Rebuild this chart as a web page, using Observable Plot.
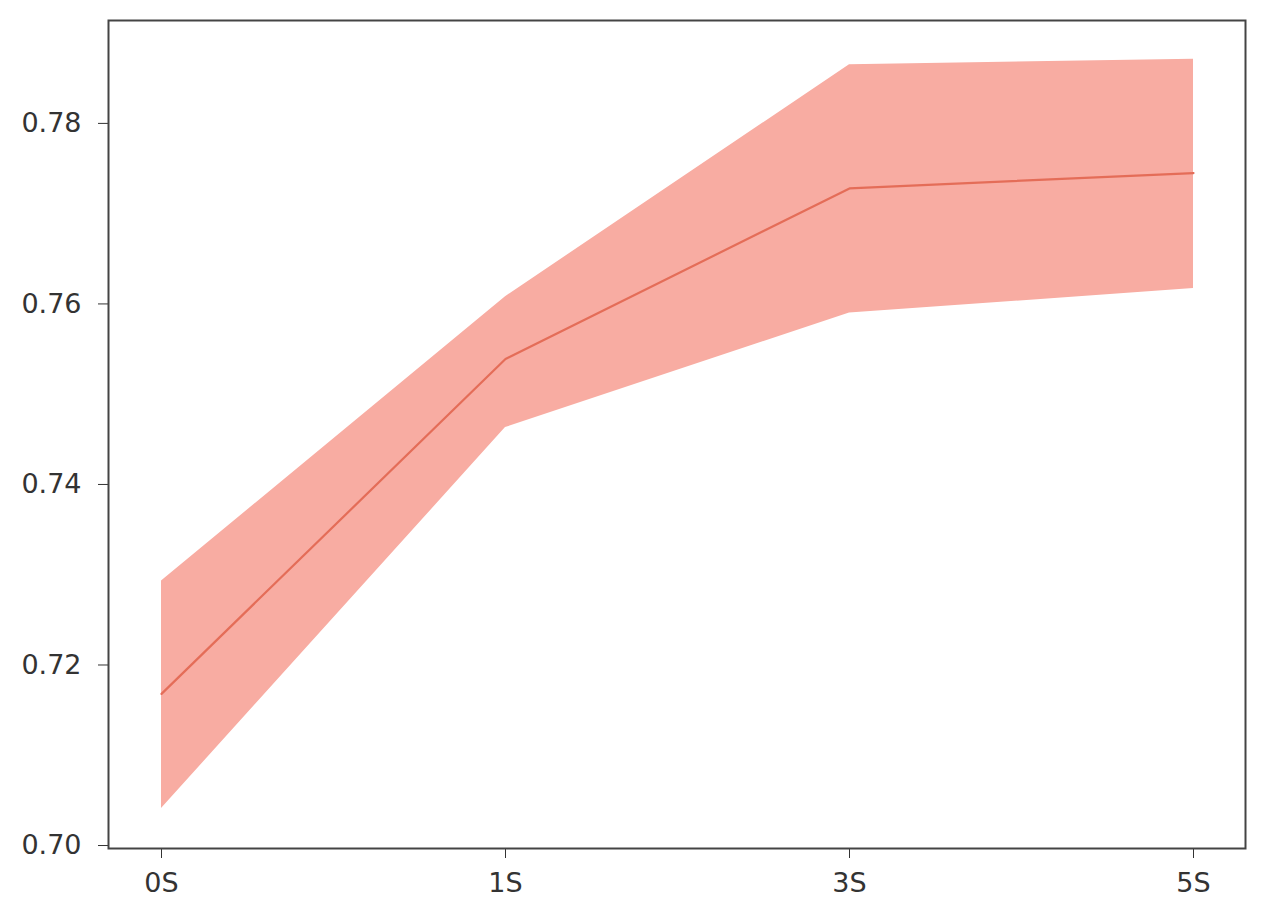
<!DOCTYPE html>
<html>
<head>
<meta charset="utf-8">
<script src="https://cdn.jsdelivr.net/npm/d3@7"></script>
<script src="https://cdn.jsdelivr.net/npm/@observablehq/plot@0.6"></script>
<style>
  html, body { margin: 0; padding: 0; background: #fff; }
  #chart { width: 1280px; height: 907px; }
</style>
</head>
<body>
<div id="chart"></div>
<script>
const categories = ["0S", "1S", "3S", "5S"];
const meanValues = [0.7168, 0.7539, 0.7728, 0.7745];
const upperValues = [0.7293, 0.7608, 0.7865, 0.7871];
const lowerValues = [0.7041, 0.7463, 0.7590, 0.7617];
const yTicks = [0.70, 0.72, 0.74, 0.76, 0.78];

const data = categories.map((c, i) => ({
  cat: c, mean: meanValues[i], hi: upperValues[i], lo: lowerValues[i]
}));

const plot = Plot.plot({
  width: 1280,
  height: 907,
  marginLeft: 108,
  marginRight: 35,
  marginTop: 20,
  marginBottom: 59,
  style: { fontFamily: "DejaVu Sans", fontSize: "27px", color: "#333", background: "#fff" },
  x: { type: "point", domain: categories, padding: 0.15, label: null, tickSize: 10, tickPadding: 14 },
  y: { domain: [0.69967, 0.7914], ticks: yTicks, tickFormat: d3.format(".2f"), label: null, tickSize: 10, tickPadding: 17 },
  marks: [
    Plot.areaY(data, { x: "cat", y1: "lo", y2: "hi", fill: "#f8aca2", curve: "linear" }),
    Plot.lineY(data, { x: "cat", y: "mean", stroke: "#e46d58", strokeWidth: 2.2 }),
    Plot.frame({ stroke: "#444", strokeWidth: 2 })
  ]
});
document.getElementById("chart").appendChild(plot);
</script>
</body>
</html>
